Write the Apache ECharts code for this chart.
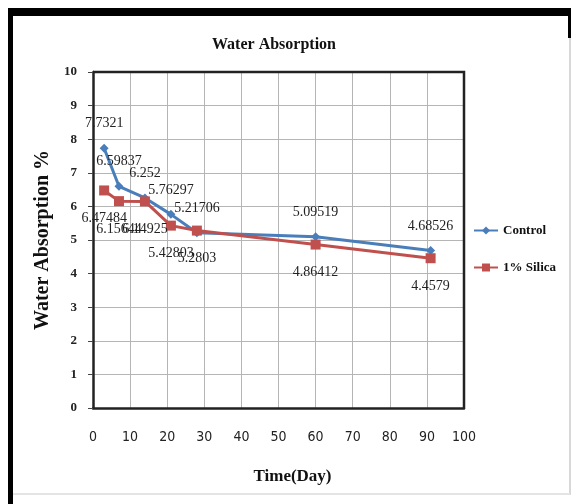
<!DOCTYPE html>
<html>
<head>
<meta charset="utf-8">
<script src="https://cdn.jsdelivr.net/npm/echarts@6/dist/echarts.min.js"></script>
<style>
  html, body { margin: 0; padding: 0; background: #ffffff; }
  #chart { width: 577px; height: 504px; }
</style>
</head>
<body>
<div id="chart"></div>
<script>
// Curing time (days) at which absorption was measured
const days = [3, 7, 14, 21, 28, 60, 91];
// Water absorption (%) per mix
const controlValues = [7.7321, 6.59837, 6.252, 5.76297, 5.21706, 5.09519, 4.68526];
const silicaValues = [6.47484, 6.15644, 6.14925, 5.42803, 5.2803, 4.86412, 4.4579];
const seriesNames = ['Control', '1% Silica'];

const serif = '"Liberation Serif", "Times New Roman", serif';
const narrow = '"Liberation Sans Narrow", "DejaVu Sans Condensed", "Liberation Sans", sans-serif';

function pairs(xs, ys) {
  return xs.map((x, i) => [x, ys[i]]);
}

const chart = echarts.init(document.getElementById('chart'), null, { renderer: 'canvas' });

chart.setOption({
  backgroundColor: '#ffffff',
  animation: false,
  title: {
    text: 'Water Absorption',
    left: 269,
    top: 32,
    textAlign: 'center',
    textStyle: { fontFamily: serif, fontWeight: 'bold', fontSize: 16, color: '#111' }
  },
  legend: {
    orient: 'vertical',
    left: 468,
    top: 219,
    itemWidth: 24,
    itemHeight: 10,
    itemGap: 24,
    data: seriesNames,
    textStyle: { fontFamily: serif, fontWeight: 'bold', fontSize: 13, color: '#111' }
  },
  grid: { left: 93, right: 113, top: 72, bottom: 96 },
  xAxis: {
    type: 'value',
    min: 0,
    max: 100,
    interval: 10,
    name: 'Time(Day)',
    nameLocation: 'middle',
    nameGap: 60,
    nameTextStyle: { fontFamily: serif, fontWeight: 'bold', fontSize: 17, color: '#111', padding: [0, 0, 0, 28] },
    axisLine: { show: true, lineStyle: { color: '#222', width: 2.5 } },
    axisTick: { show: false },
    axisLabel: { fontFamily: narrow, fontSize: 14, color: '#222', margin: 22 },
    splitLine: { show: true, lineStyle: { color: '#b5b5b5', width: 1 } }
  },
  yAxis: {
    type: 'value',
    min: 0,
    max: 10,
    interval: 1,
    name: 'Water Absorption %',
    nameLocation: 'middle',
    nameRotate: 90,
    nameGap: 37,
    nameTextStyle: { fontFamily: serif, fontWeight: 'bold', fontSize: 20, color: '#111' },
    axisLine: { show: true, lineStyle: { color: '#222', width: 2.5 } },
    axisTick: { show: true, inside: false, length: 5, lineStyle: { color: '#444' } },
    axisLabel: { fontFamily: serif, fontWeight: 'bold', fontSize: 13, color: '#222', margin: 16 },
    splitLine: { show: true, lineStyle: { color: '#b5b5b5', width: 1 } }
  },
  series: [
    {
      name: seriesNames[0],
      type: 'line',
      data: pairs(days, controlValues),
      color: '#4a7ebb',
      lineStyle: { width: 3, color: '#4a7ebb' },
      symbol: 'diamond',
      symbolSize: 9,
      itemStyle: { color: '#4a7ebb' },
      label: {
        show: true,
        position: 'top',
        distance: 13,
        formatter: p => String(p.value[1]),
        fontFamily: serif,
        fontSize: 14,
        color: '#222'
      },
      z: 2
    },
    {
      name: seriesNames[1],
      type: 'line',
      data: pairs(days, silicaValues),
      color: '#be4b48',
      lineStyle: { width: 3, color: '#c0504d' },
      symbol: 'rect',
      symbolSize: 10,
      itemStyle: { color: '#c0504d' },
      label: {
        show: true,
        position: 'bottom',
        distance: 16,
        formatter: p => String(p.value[1]),
        fontFamily: serif,
        fontSize: 14,
        color: '#222'
      },
      z: 3
    }
  ],
  graphic: [
    // outer chart frame
    { type: 'rect', shape: { x: 8, y: 8, width: 562, height: 8 }, style: { fill: '#000' }, silent: true },
    { type: 'rect', shape: { x: 8, y: 8, width: 5, height: 496 }, style: { fill: '#000' }, silent: true },
    { type: 'rect', shape: { x: 568, y: 8, width: 3, height: 30 }, style: { fill: '#000' }, silent: true },
    { type: 'line', shape: { x1: 570, y1: 38, x2: 570, y2: 495 }, style: { stroke: '#d8d8d8', lineWidth: 2 }, silent: true },
    { type: 'line', shape: { x1: 13, y1: 494, x2: 570, y2: 494 }, style: { stroke: '#e4e4e4', lineWidth: 2 }, silent: true },
    // plot area frame on top and right
    { type: 'polyline', shape: { points: [[93, 72], [464, 72], [464, 408]] }, style: { stroke: '#222', lineWidth: 2.5, fill: null }, silent: true, z: 10 }
  ]
});
</script>
</body>
</html>
